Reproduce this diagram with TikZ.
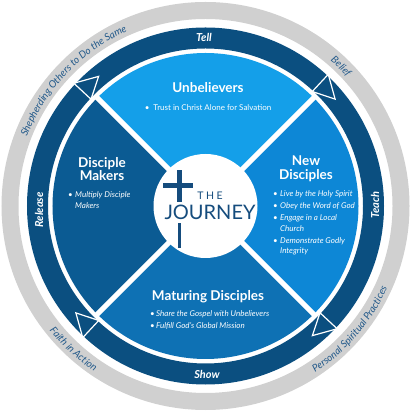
\documentclass[tikz,border=0pt]{standalone}
\usepackage{fontspec}
\setmainfont{Lato}
\usetikzlibrary{decorations.text}
\definecolor{grayring}{HTML}{D0D0D0}
\definecolor{ringc}{HTML}{0B4F80}
\definecolor{qtop}{HTML}{149FE9}
\definecolor{qright}{HTML}{0D87D6}
\definecolor{qbottom}{HTML}{0E71B4}
\definecolor{qleft}{HTML}{0B5B93}
\definecolor{logoc}{HTML}{154C7D}
\definecolor{arctext}{HTML}{22598A}
\begin{document}
\begin{tikzpicture}[x=1pt,y=1pt,
  head/.style={text=white, font=\fontsize{13.5}{15}\selectfont\bfseries, inner sep=0, anchor=base},
  bl/.style={text=white, font=\fontsize{8}{9}\selectfont\itshape, inner sep=0, anchor=base west},
  bul/.style={text=white, font=\fontsize{8}{9}\selectfont, inner sep=0, anchor=base west},
  ringlabel/.style={text=white, font=\fontsize{11}{12}\selectfont\bfseries\itshape, inner sep=0},
  arrowhd/.style={fill=ringc, draw=white, line width=1.2pt, line join=miter},
  divider/.style={draw=white, line width=5pt},
  logotext/.style={text=logoc, inner sep=0}
]
\useasboundingbox (-205.5,-205) rectangle (205.5,206);
% gray outer ring
\fill[grayring, even odd rule] (0,0) circle[radius=204] (0,0) circle[radius=187];
% dark ring
\fill[ringc, even odd rule] (0,0) circle[radius=178.5] (0,0) circle[radius=157.5];
% arrowheads
\foreach \a in {45,135,225,315}{
  \filldraw[arrowhd] ({\a+2}:156.5) -- ({\a+2}:180) -- ({\a-5.5}:168) -- cycle;
}
% quadrants
\fill[qtop] (0,0) -- (45:153) arc[start angle=45, end angle=135, radius=153] -- cycle;
\fill[qleft] (0,0) -- (135:153) arc[start angle=135, end angle=225, radius=153] -- cycle;
\fill[qbottom] (0,0) -- (225:153) arc[start angle=225, end angle=315, radius=153] -- cycle;
\fill[qright] (0,0) -- (315:153) arc[start angle=315, end angle=405, radius=153] -- cycle;
\foreach \a in {45,135,225,315}{
  \draw[divider] (\a:40) -- (\a:156);
}
\fill[white] (0,0) circle[radius=52];
% logo
\fill[logoc] (-28.5,4) rectangle (-23.5,36);
\fill[logoc] (-42.5,18) rectangle (-12.5,23);
\fill[logoc] (-27.8,-42) rectangle (-24.2,-17);
\node[logotext, font=\fontsize{10.5}{12}\selectfont] (the) at (4.5,10) {T\hspace{2.5pt}H\hspace{2.5pt}E};
\node[logotext, font=\fontsize{20}{24}\selectfont] (jrn) at (4.5,-6.5) {JOURNEY};
% quadrant texts
\node[head] (unb) at (2.5,113) {Unbelievers};
\node[bul, anchor=base] (unb1) at (2.5,95.2) {•\hspace{4pt}Trust in Christ Alone for Salvation};
\node[head] (dm1) at (-103.5,38) {Disciple};
\node[head] (dm2) at (-103.5,25) {Makers};
\node[bl] (dmb1) at (-137.5,8.2) {\makebox[7pt][l]{•}Multiply Disciple};
\node[bl] (dmb2) at (-130.5,-2.8) {Makers};
\node[head] (nd1) at (100.5,40) {New};
\node[head] (nd2) at (100.5,26) {Disciples};
\node[bl] (ndb1) at (67.5,9.2) {\makebox[7pt][l]{•}Live by the Holy Spirit};
\node[bl] (ndb2) at (67.5,-2.8) {\makebox[7pt][l]{•}Obey the Word of God};
\node[bl] (ndb3) at (67.5,-14.8) {\makebox[7pt][l]{•}Engage in a Local};
\node[bl] (ndb4) at (74.5,-25.8) {Church};
\node[bl] (ndb5) at (67.5,-37.8) {\makebox[7pt][l]{•}Demonstrate Godly};
\node[bl] (ndb6) at (74.5,-47.8) {Integrity};
\node[head] (md) at (2.5,-95) {Maturing Disciples};
\node[bl] (mdb1) at (-55.5,-110.8) {\makebox[6pt][l]{•}Share the Gospel with Unbelievers};
\node[bl] (mdb2) at (-55.5,-122.8) {\makebox[6pt][l]{•}Fulfill God's Global Mission};
% ring labels
\node[ringlabel] (tell) at (-1.5,169) {Tell};
\node[ringlabel, rotate=90] (teach) at (169.5,1) {Teach};
\node[ringlabel] (show) at (1.5,-168) {Show};
\node[ringlabel, rotate=90] (release) at (-166.5,-4) {Release};
% gray ring texts
\path[decorate, decoration={text along path, text align=center, text color=arctext,
  text={|\fontsize{10}{12}\selectfont\itshape|Shepherding Others to Do the Same}}]
  (176.5:191.5) arc[start angle=176.5, end angle=96.5, radius=191.5];
\path[decorate, decoration={text along path, text align=center, text color=arctext,
  text={|\fontsize{10}{12}\selectfont\itshape|Belief}}]
  (65.8:191.5) arc[start angle=65.8, end angle=25.8, radius=191.5];
\path[decorate, decoration={text along path, text align=center, text color=arctext,
  text={|\fontsize{10}{12}\selectfont\itshape|Personal Spiritual Practices}}]
  (-70.5:199.5) arc[start angle=-70.5, end angle=-10.5, radius=199.5];
\path[decorate, decoration={text along path, text align=center, text color=arctext,
  text={|\fontsize{10}{12}\selectfont\itshape|Faith in Action}}]
  (207.3:199.5) arc[start angle=207.3, end angle=247.3, radius=199.5];
\end{tikzpicture}
\end{document}
